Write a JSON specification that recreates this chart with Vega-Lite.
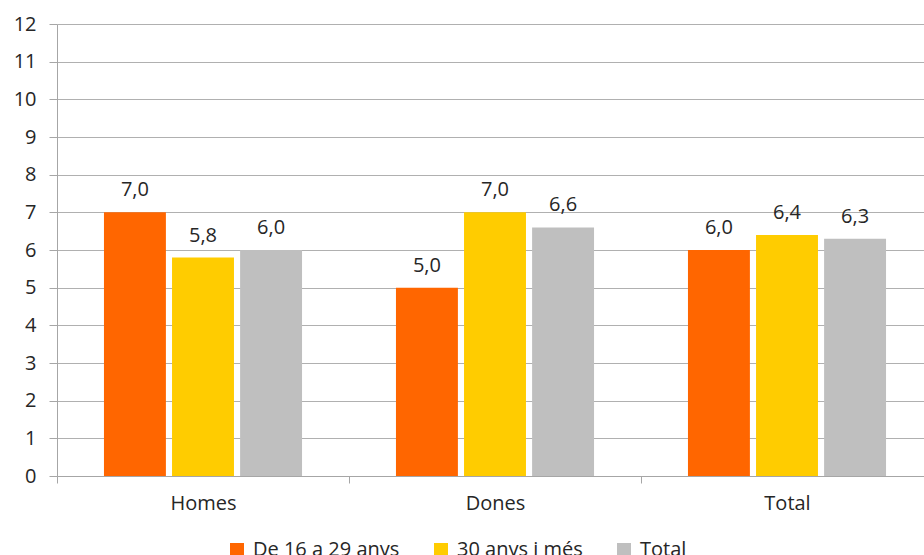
{
  "$schema": "https://vega.github.io/schema/vega-lite/v6.json",
  "autosize": {"type": "none"},
  "padding": {"left": 57, "top": 24, "right": 0, "bottom": 79},
  "width": 867,
  "height": 452,
  "background": "white",
  "config": {
    "view": {"stroke": null},
    "font": "Open Sans",
    "locale": {"number": {"decimal": ",", "thousands": ".", "grouping": [3], "currency": ["", " €"]}}
  },
  "data": {
    "values": [
      {"grup": "Homes", "edat": "De 16 a 29 anys", "valor": 7.0},
      {"grup": "Homes", "edat": "30 anys i més", "valor": 5.8},
      {"grup": "Homes", "edat": "Total", "valor": 6.0},
      {"grup": "Dones", "edat": "De 16 a 29 anys", "valor": 5.0},
      {"grup": "Dones", "edat": "30 anys i més", "valor": 7.0},
      {"grup": "Dones", "edat": "Total", "valor": 6.6},
      {"grup": "Total", "edat": "De 16 a 29 anys", "valor": 6.0},
      {"grup": "Total", "edat": "30 anys i més", "valor": 6.4},
      {"grup": "Total", "edat": "Total", "valor": 6.3}
    ]
  },
  "encoding": {
    "x": {
      "field": "grup", "type": "nominal", "sort": ["Homes", "Dones", "Total"],
      "scale": {"range": [0, 876], "paddingInner": 0, "paddingOuter": 0},
      "axis": {
        "title": null, "labelAngle": 0, "tickBand": "extent",
        "domainColor": "#a6a6a6", "tickColor": "#a6a6a6", "tickSize": 7,
        "labelFontSize": 20, "labelColor": "#262626", "labelPadding": 10,
        "labelFont": "Open Sans", "grid": false
      }
    },
    "xOffset": {
      "field": "edat", "type": "nominal",
      "sort": ["De 16 a 29 anys", "30 anys i més", "Total"],
      "scale": {"paddingInner": 0.09, "paddingOuter": 0.69}
    },
    "y": {
      "field": "valor", "type": "quantitative",
      "scale": {"domain": [0, 12]},
      "axis": {
        "title": null, "values": [0,1,2,3,4,5,6,7,8,9,10,11,12], "format": "d",
        "domainColor": "#a6a6a6", "tickColor": "#a6a6a6", "tickSize": 8,
        "gridColor": "#b0b0b0", "labelFontSize": 20, "labelColor": "#262626",
        "labelPadding": 13, "labelFont": "Open Sans"
      }
    }
  },
  "layer": [
    {
      "mark": {"type": "bar"},
      "encoding": {
        "color": {
          "field": "edat", "type": "nominal",
          "sort": ["De 16 a 29 anys", "30 anys i més", "Total"],
          "scale": {"domain": ["De 16 a 29 anys", "30 anys i més", "Total"], "range": ["#FF6600", "#FFCC00", "#BFBFBF"]},
          "legend": {
            "title": null, "orient": "none", "direction": "horizontal",
            "legendX": 170, "legendY": 516, "padding": 0,
            "symbolType": "square", "symbolSize": 196, "symbolStrokeWidth": 0,
            "labelFontSize": 20, "labelColor": "#262626", "labelFont": "Open Sans",
            "labelOffset": 6, "columnPadding": 31, "symbolOffset": 0
          }
        }
      }
    },
    {
      "mark": {"type": "text", "baseline": "alphabetic", "dy": -16, "fontSize": 20, "color": "#262626"},
      "encoding": {"text": {"field": "valor", "type": "quantitative", "format": ".1f"}}
    }
  ]
}
